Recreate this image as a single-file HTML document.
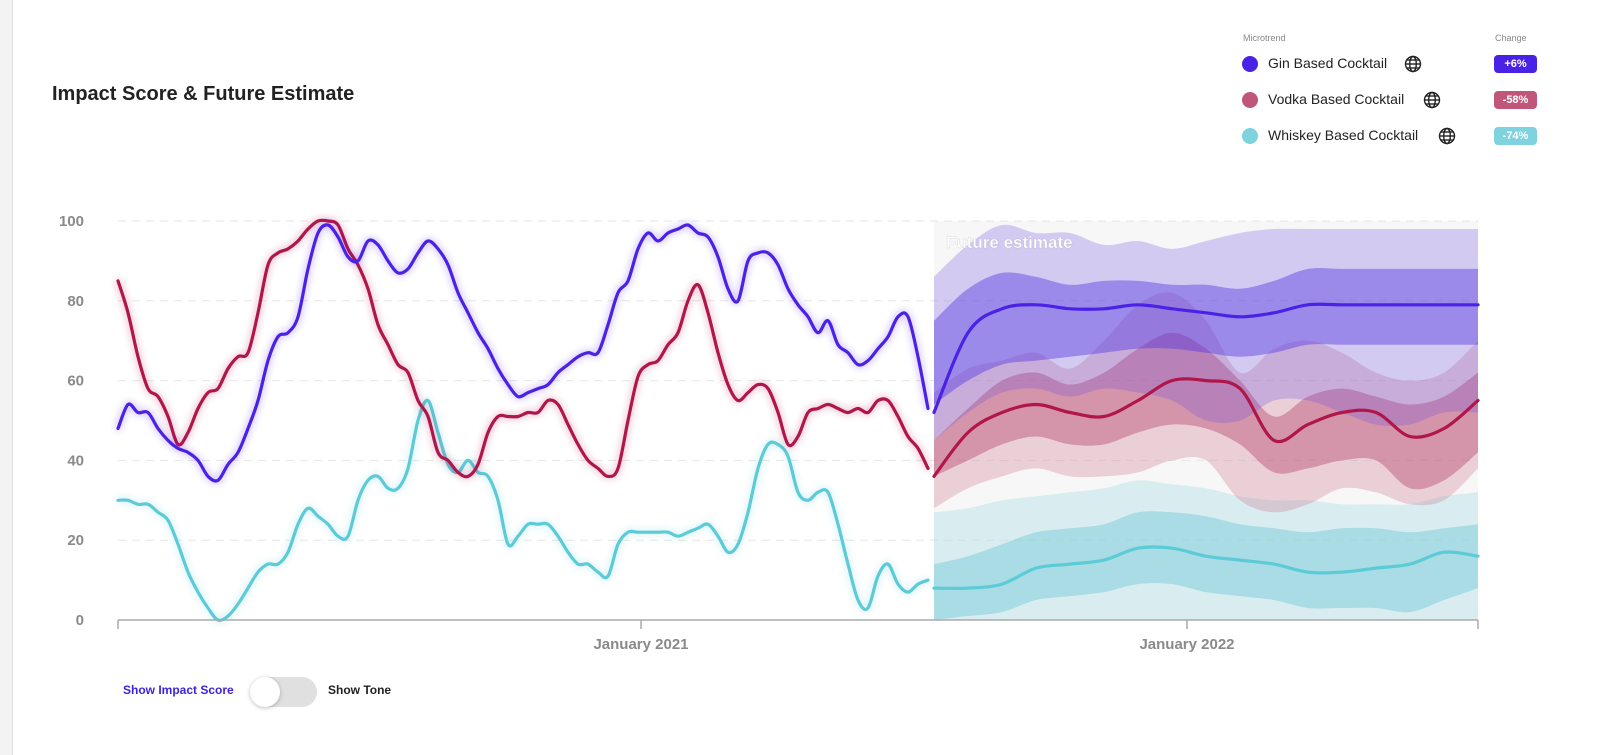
<!DOCTYPE html>
<html><head><meta charset="utf-8"><style>
body{margin:0;width:1600px;height:755px;background:#fff;font-family:"Liberation Sans",sans-serif;overflow:hidden;position:relative}
.abs{position:absolute}
</style></head><body>
<div class="abs" style="left:0;top:0;width:12px;height:755px;background:#f3f3f3;border-right:1px solid #e2e2e2"></div>
<div class="abs" style="left:52px;top:83px;font-size:20px;font-weight:bold;color:#222">Impact Score &amp; Future Estimate</div>

<div class="abs" style="left:1230px;top:25px;width:330px;height:130px">
  <div class="abs" style="left:13px;top:8px;font-size:9px;color:#888">Microtrend</div>
  <div class="abs" style="left:265px;top:8px;font-size:9px;color:#888">Change</div>
  <div>
    <div class="abs" style="left:12px;top:31px;width:16px;height:16px;border-radius:50%;background:#4a22e6"></div>
    <div class="abs" style="left:38px;top:30px;font-size:14px;color:#222">Gin Based Cocktail</div>
    <svg class="abs globe" style="left:174px;top:30px" width="18" height="18" viewBox="0 0 18 18"><g fill="none" stroke="#222" stroke-width="1.4"><circle cx="9" cy="9" r="7.5"/><ellipse cx="9" cy="9" rx="3.3" ry="7.5"/><line x1="1.5" y1="9" x2="16.5" y2="9"/><line x1="2.5" y1="5" x2="15.5" y2="5"/><line x1="2.5" y1="13" x2="15.5" y2="13"/></g></svg>
    <div class="abs" style="left:264px;top:30px;width:43px;height:18px;border-radius:4px;background:#4a22e6;color:#fff;font-size:11px;font-weight:bold;text-align:center;line-height:18px">+6%</div>
  </div>
  <div>
    <div class="abs" style="left:12px;top:67px;width:16px;height:16px;border-radius:50%;background:#c0577a"></div>
    <div class="abs" style="left:38px;top:66px;font-size:14px;color:#222">Vodka Based Cocktail</div>
    <svg class="abs" style="left:193px;top:66px" width="18" height="18" viewBox="0 0 18 18"><g fill="none" stroke="#222" stroke-width="1.4"><circle cx="9" cy="9" r="7.5"/><ellipse cx="9" cy="9" rx="3.3" ry="7.5"/><line x1="1.5" y1="9" x2="16.5" y2="9"/><line x1="2.5" y1="5" x2="15.5" y2="5"/><line x1="2.5" y1="13" x2="15.5" y2="13"/></g></svg>
    <div class="abs" style="left:264px;top:66px;width:43px;height:18px;border-radius:4px;background:#c0577a;color:#fff;font-size:11px;font-weight:bold;text-align:center;line-height:18px">-58%</div>
  </div>
  <div>
    <div class="abs" style="left:12px;top:103px;width:16px;height:16px;border-radius:50%;background:#7fd3de"></div>
    <div class="abs" style="left:38px;top:102px;font-size:14px;color:#222">Whiskey Based Cocktail</div>
    <svg class="abs" style="left:208px;top:102px" width="18" height="18" viewBox="0 0 18 18"><g fill="none" stroke="#222" stroke-width="1.4"><circle cx="9" cy="9" r="7.5"/><ellipse cx="9" cy="9" rx="3.3" ry="7.5"/><line x1="1.5" y1="9" x2="16.5" y2="9"/><line x1="2.5" y1="5" x2="15.5" y2="5"/><line x1="2.5" y1="13" x2="15.5" y2="13"/></g></svg>
    <div class="abs" style="left:264px;top:102px;width:43px;height:18px;border-radius:4px;background:#7fd3de;color:#fff;font-size:11px;font-weight:bold;text-align:center;line-height:18px">-74%</div>
  </div>
</div>

<svg id="chart" class="abs" style="left:0;top:0" width="1600" height="755">
  <defs>
    <filter id="glow" x="-5%" y="-20%" width="110%" height="140%"><feGaussianBlur in="SourceGraphic" stdDeviation="4" result="b"/><feComponentTransfer in="b" result="c"><feFuncA type="linear" slope="0.45"/></feComponentTransfer><feMerge><feMergeNode in="c"/><feMergeNode in="SourceGraphic"/></feMerge></filter>
    <clipPath id="plotclip"><rect x="118" y="221" width="1360" height="399"/></clipPath>
  </defs>
  <g id="grid"></g>
  <g id="bands" clip-path="url(#plotclip)"></g>
  <g id="lines"></g>
  <g id="axes"></g>
</svg>

<div class="abs" style="left:123px;top:683px;font-size:12px;font-weight:bold;color:#3d22e0">Show Impact Score</div>
<div class="abs" style="left:250px;top:677px;width:67px;height:30px;border-radius:15px;background:#e0e0e0">
  <div style="position:absolute;left:0;top:0;width:30px;height:30px;border-radius:50%;background:#fff;box-shadow:0 1px 4px rgba(0,0,0,0.25)"></div>
</div>
<div class="abs" style="left:328px;top:683px;font-size:12px;font-weight:bold;color:#222">Show Tone</div>

<script>
const histStartYear = 2020.0421;
const histStepYears = 0.018315;
const ginHist = [48,54,52,52,48,45,43,42,40,36,35,39,42,48,55,65,71,72,76,88,97,99,96,91,90,95,94,90,87,88,92,95,93,89,82,77,72,68,63,59,56,57,58,59,62,64,66,67,67,74,82,85,93,97,95,97,98,99,97,96,91,83,80,90,92,92,89,83,79,76,72,75,69,67,64,65,68,71,76,76,66,53];
const vodkaHist = [85,77,66,58,56,51,44,47,53,57,58,63,66,67,77,89,92,93,95,98,100,100,99,93,89,83,74,69,64,62,55,51,42,40,37,36,39,47,51,51,51,52,52,55,54,49,44,40,38,36,38,50,61,64,65,69,72,80,84,77,67,59,55,57,59,58,52,44,46,52,53,54,53,52,53,52,55,55,51,46,43,38];
const whiskeyHist = [30,30,29,29,27,25,19,12,7,3,0,1,4,8,12,14,14,17,24,28,26,24,21,21,30,35,36,33,33,38,50,55,47,39,37,40,37,36,30,19,21,24,24,24,21,17,14,14,12,11,19,22,22,22,22,22,21,22,23,24,21,17,19,27,38,44,44,41,32,30,32,32,24,14,5,3,11,14,9,7,9,10];

const futStartYear = 2021.5366;
const futStepYears = 0.06227;
const ginMean   = [52,72,78,79,78,78,79,78,77,76,77,79,79,79,79,79,79];
const ginHi1    = [75,83,87,86,84,85,85,84,84,83,85,88,88,88,88,88,88];
const ginLo1    = [54,60,64,65,66,67,68,68,67,66,67,69,69,69,69,69,69];
const ginHi2    = [86,94,99,97,97,94,95,93,95,97,98,98,98,98,98,98,98];
const ginLo2    = [45,52,57,58,56,58,57,55,50,50,55,55,52,49,49,52,52];
const vodkaMean = [36,47,52,54,52,51,55,60,60,58,45,49,52,52,46,48,55];
const vodkaHi1  = [45,53,60,62,59,62,68,72,68,60,51,56,58,56,54,56,62];
const vodkaLo1  = [36,40,44,46,44,44,47,49,48,44,37,38,40,40,33,35,42];
const vodkaHi2  = [57,63,65,67,63,70,79,82,75,62,68,70,67,62,60,62,70];
const vodkaLo2  = [28,33,36,38,36,36,37,40,40,30,27,29,33,32,29,30,38];
const whiskeyMean = [8,8,9,13,14,15,18,18,16,15,14,12,12,13,14,17,16];
const whiskeyHi1  = [14,16,19,22,23,24,27,27,26,24,23,22,23,23,22,23,24];
const whiskeyLo1  = [0,1,2,5,6,7,9,9,7,6,5,3,3,3,2,5,8];
const whiskeyHi2  = [27,28,30,31,32,33,35,34,33,31,30,30,29,29,29,31,32];
const whiskeyLo2  = [-4,-4,-4,-3,-3,-2,-1,-1,-2,-3,-3,-4,-4,-2,0,-3,-4];

const yTicks = [0,20,40,60,80,100];
const xTickYears = [2021, 2022];
const xTickLabels = ["January 2021","January 2022"];

const X0=118, X1=1478, Y0=620, Y1=221;
const domainStart = 2020.0421, domainEnd = 2022.5330;
function xs(yr){return X0 + (yr-domainStart)/(domainEnd-domainStart)*(X1-X0);}
function ys(v){return Y0 - v/100*(Y0-Y1);}
const NS="http://www.w3.org/2000/svg";
function mk(tag, attrs, parent){const e=document.createElementNS(NS,tag);for(const k in attrs)e.setAttribute(k,attrs[k]);parent.appendChild(e);return e;}

function pathD(pts){
  let d="M"+pts[0][0].toFixed(1)+","+pts[0][1].toFixed(1);
  for(let i=0;i<pts.length-1;i++){
    const p0=pts[Math.max(0,i-1)],p1=pts[i],p2=pts[i+1],p3=pts[Math.min(pts.length-1,i+2)];
    const c1=[p1[0]+(p2[0]-p0[0])/6,p1[1]+(p2[1]-p0[1])/6];
    const c2=[p2[0]-(p3[0]-p1[0])/6,p2[1]-(p3[1]-p1[1])/6];
    d+="C"+c1[0].toFixed(1)+","+c1[1].toFixed(1)+" "+c2[0].toFixed(1)+","+c2[1].toFixed(1)+" "+p2[0].toFixed(1)+","+p2[1].toFixed(1);
  }
  return d;
}
function histPts(arr){return arr.map((v,i)=>[xs(histStartYear+i*histStepYears),ys(v)]);}
function futPts(arr){return arr.map((v,i)=>[xs(futStartYear+i*futStepYears),ys(v)]);}

const grid=document.getElementById('grid'), bands=document.getElementById('bands'), lines=document.getElementById('lines'), axes=document.getElementById('axes');

const fb=mk('rect',{x:xs(futStartYear),y:Y1,width:X1-xs(futStartYear),height:Y0-Y1,fill:'#f7f7f7'},grid);



yTicks.forEach(t=>{
  if(t>0){
    const g=mk('line',{x1:X0,x2:X1,y1:ys(t),y2:ys(t),stroke:'#e6e6e6','stroke-width':1,'stroke-dasharray':'8,6'},grid);
    
    
  }
  const l=mk('text',{x:84,y:ys(t)+5,'text-anchor':'end','font-size':15,'font-weight':'bold',fill:'#8a8a8a','font-family':'Liberation Sans, sans-serif'},axes);
  l.textContent=t;
  
  
});

function band(hi,lo,fill,name){
  const top=futPts(hi), bot=futPts(lo).reverse();
  const bd=pathD(bot);
  let d=pathD(top);
  d+="L"+bot[0][0].toFixed(1)+","+bot[0][1].toFixed(1)+bd.slice(bd.indexOf('C')) + "Z";
  const p=mk('path',{d:d,fill:fill},bands);
  
  
}
band(whiskeyHi2,whiskeyLo2,'rgba(150,215,225,0.3)','whiskey-outer-band');
band(whiskeyHi1,whiskeyLo1,'rgba(110,200,212,0.45)','whiskey-inner-band');
band(vodkaHi2,vodkaLo2,'rgba(200,100,130,0.27)','vodka-outer-band');
band(vodkaHi1,vodkaLo1,'rgba(180,60,100,0.4)','vodka-inner-band');
band(ginHi2,ginLo2,'rgba(110,80,225,0.27)','gin-outer-band');
band(ginHi1,ginLo1,'rgba(80,50,225,0.42)','gin-inner-band');

const ft=mk('text',{x:946,y:248,'font-size':17,'font-weight':'bold',fill:'#fff',stroke:'rgba(0,0,0,0.12)','stroke-width':0.6,'font-family':'Liberation Sans, sans-serif'},lines);
ft.textContent='Future estimate';



function line(pts,color,name,glow){
  const p=mk('path',{d:pathD(pts),fill:'none',stroke:color,'stroke-width':3.2,'stroke-linejoin':'round','stroke-linecap':'round'},lines);
  if(glow)p.setAttribute('filter','url(#glow)');
  
  
}
line(histPts(whiskeyHist),'#5ccbd8','whiskey-history-line',true);
line(histPts(vodkaHist),'#b0164a','vodka-history-line',true);
line(histPts(ginHist),'#4a22e6','gin-history-line',true);
line(futPts(whiskeyMean),'#5ccbd8','whiskey-forecast-line',false);
line(futPts(vodkaMean),'#b0164a','vodka-forecast-line',false);
line(futPts(ginMean),'#4a22e6','gin-forecast-line',false);

const ax=mk('line',{x1:X0,x2:X1,y1:Y0,y2:Y0,stroke:'#aaa','stroke-width':1.5},axes);


[X0,X1].forEach(x=>{mk('line',{x1:x,x2:x,y1:Y0,y2:Y0+9,stroke:'#aaa','stroke-width':1.5},axes);});
xTickYears.forEach((yr,i)=>{
  const x=xs(yr);
  const tk=mk('line',{x1:x,x2:x,y1:Y0,y2:Y0+9,stroke:'#aaa','stroke-width':1.5},axes);
  
  
  const t=mk('text',{x:x,y:649,'text-anchor':'middle','font-size':15,'font-weight':'bold',fill:'#8a8a8a','font-family':'Liberation Sans, sans-serif'},axes);
  t.textContent=xTickLabels[i];
  
  
});
</script>
</body></html>
